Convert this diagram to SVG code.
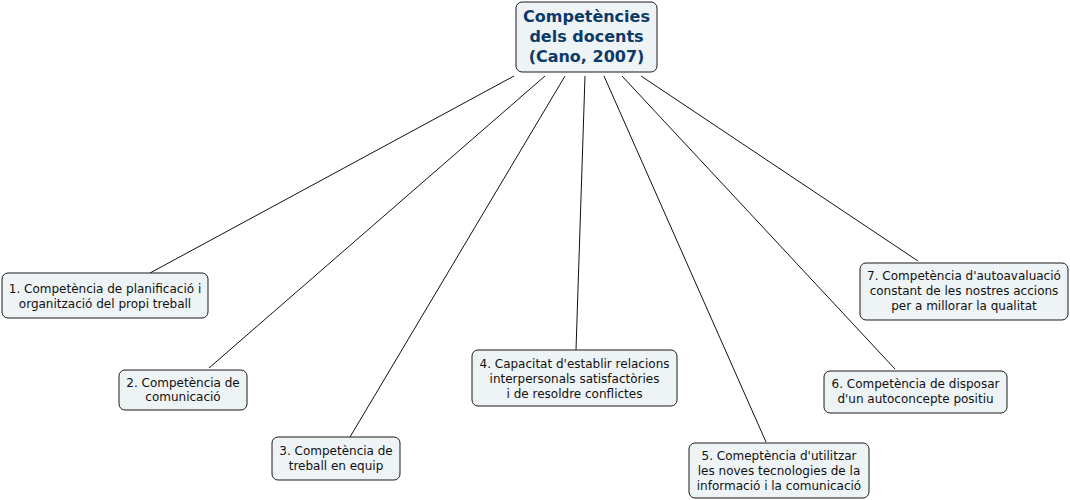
<svg xmlns="http://www.w3.org/2000/svg" width="1070" height="500" viewBox="0 0 1070 500">
<style>
.box{fill:#eef3f6;stroke:#1a1a1a;stroke-width:1}
.t{font-family:"DejaVu Sans",Verdana,sans-serif;font-size:12px;fill:#111;text-anchor:middle}
.rt{font-family:"DejaVu Sans",Verdana,sans-serif;font-size:16px;font-weight:bold;fill:#0b3a66;text-anchor:middle}
.c line{stroke:#111;stroke-width:1}
</style>
<rect width="1070" height="500" fill="#fff"/>
<g class="c" id="connectors">
<line x1="514" y1="76" x2="150" y2="273"/>
<line x1="545" y1="76" x2="209" y2="368"/>
<line x1="565" y1="76" x2="350" y2="437"/>
<line x1="585" y1="76" x2="576" y2="350"/>
<line x1="604" y1="76" x2="766" y2="442"/>
<line x1="622" y1="76" x2="895" y2="369"/>
<line x1="641" y1="76" x2="918" y2="261"/>
</g>
<g id="root">
<rect class="box" x="516" y="2" width="141" height="70" rx="6"/>
<text class="rt" x="586.5" y="22">Competències</text>
<text class="rt" x="586.5" y="42">dels docents</text>
<text class="rt" x="586.5" y="62">(Cano, 2007)</text>
</g>
<g id="n1">
<rect class="box" x="2" y="273" width="206" height="45" rx="6"/>
<text class="t" x="105" y="293">1. Competència de planificació i</text>
<text class="t" x="105" y="308">organització del propi treball</text>
</g>
<g id="n2">
<rect class="box" x="119" y="370" width="128" height="40" rx="6"/>
<text class="t" x="183" y="387">2. Competència de</text>
<text class="t" x="183" y="401">comunicació</text>
</g>
<g id="n3">
<rect class="box" x="272" y="437" width="128" height="43" rx="6"/>
<text class="t" x="336" y="455">3. Competència de</text>
<text class="t" x="336" y="470">treball en equip</text>
</g>
<g id="n4">
<rect class="box" x="472" y="350" width="205" height="56" rx="6"/>
<text class="t" x="574.5" y="368">4. Capacitat d'establir relacions</text>
<text class="t" x="574.5" y="383">interpersonals satisfactòries</text>
<text class="t" x="574.5" y="398">i de resoldre conflictes</text>
</g>
<g id="n5">
<rect class="box" x="689" y="443" width="180" height="55" rx="6"/>
<text class="t" x="779" y="460">5. Comeptència d'utilitzar</text>
<text class="t" x="779" y="475">les noves tecnologies de la</text>
<text class="t" x="779" y="490">informació i la comunicació</text>
</g>
<g id="n6">
<rect class="box" x="824" y="371" width="183" height="42" rx="6"/>
<text class="t" x="915.5" y="388">6. Competència de disposar</text>
<text class="t" x="915.5" y="403">d'un autoconcepte positiu</text>
</g>
<g id="n7">
<rect class="box" x="860" y="263" width="208" height="57" rx="6"/>
<text class="t" x="964" y="280">7. Competència d'autoavaluació</text>
<text class="t" x="964" y="295">constant de les nostres accions</text>
<text class="t" x="964" y="310">per a millorar la qualitat</text>
</g>
</svg>
